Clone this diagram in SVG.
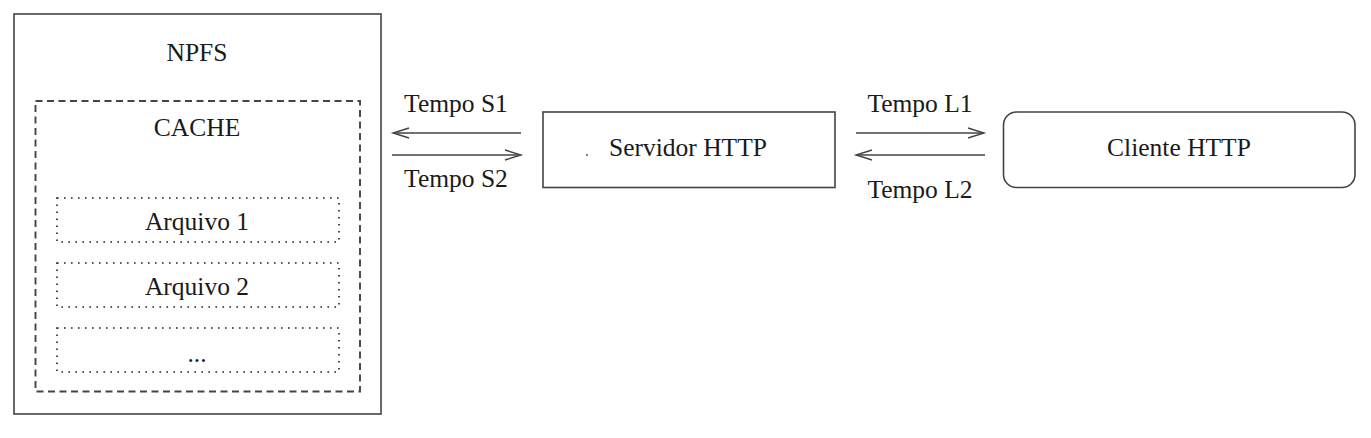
<svg xmlns="http://www.w3.org/2000/svg" width="1371" height="438" viewBox="0 0 1371 438">
<style>
text{font-family:"Liberation Serif","Times New Roman",serif;font-size:25.5px;fill:#1a1a1a;text-anchor:middle}
.box{fill:none;stroke:#444;stroke-width:1.6}
.dash{fill:none;stroke:#444;stroke-width:1.9;stroke-dasharray:7 4.5}
.dot{fill:none;stroke:#222;stroke-width:1.6;stroke-dasharray:1.6 5.4}
.conn{fill:none;stroke:#444;stroke-width:1.5}
</style>
<defs>
<marker id="ah" markerWidth="20" markerHeight="12" refX="17" refY="6" orient="auto" markerUnits="userSpaceOnUse">
<path d="M1,1 L17,6 L1,11" fill="none" stroke="#444" stroke-width="1.4"/>
</marker>
</defs>
<rect width="1371" height="438" fill="#fff"/>
<g id="npfs">
<rect class="box" x="14" y="14" width="367" height="400"/>
<text x="197" y="61">NPFS</text>
</g>
<g id="cache">
<rect class="dash" x="35.5" y="101" width="324.5" height="290.5"/>
<text x="197" y="136">CACHE</text>
</g>
<g id="arquivo1">
<rect class="dot" x="57" y="198" width="282" height="44"/>
<text x="197" y="230">Arquivo 1</text>
</g>
<g id="arquivo2">
<rect class="dot" x="57" y="263" width="282" height="44"/>
<text x="197" y="295">Arquivo 2</text>
</g>
<g id="arquivo3">
<rect class="dot" x="57" y="328" width="282" height="44"/>
<text x="197" y="362">...</text>
</g>
<g id="servidor">
<rect class="box" x="543" y="112" width="292" height="75.5"/>
<circle cx="587" cy="155" r="0.9" fill="#444"/>
<text x="688" y="156">Servidor HTTP</text>
</g>
<g id="cliente">
<rect class="box" x="1003.5" y="112" width="351.5" height="75.5" rx="13" ry="13"/>
<text x="1179" y="156">Cliente HTTP</text>
</g>
<g id="connectors">
<line class="conn" x1="521" y1="133" x2="393" y2="133" marker-end="url(#ah)"/>
<line class="conn" x1="392" y1="155" x2="521" y2="155" marker-end="url(#ah)"/>
<line class="conn" x1="856" y1="133" x2="984" y2="133" marker-end="url(#ah)"/>
<line class="conn" x1="985" y1="155" x2="856" y2="155" marker-end="url(#ah)"/>
<text x="456" y="112">Tempo S1</text>
<text x="456" y="187">Tempo S2</text>
<text x="920" y="112">Tempo L1</text>
<text x="920" y="198">Tempo L2</text>
</g>
</svg>
